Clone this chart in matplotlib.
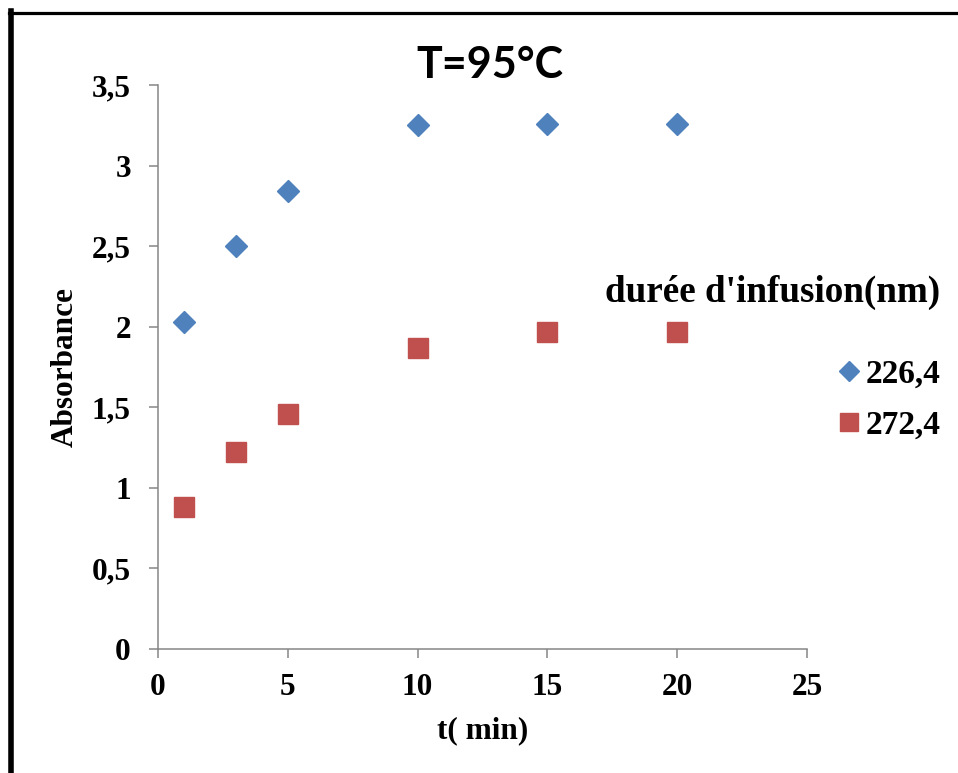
import matplotlib
matplotlib.use("Agg")
import matplotlib.pyplot as plt
from matplotlib.lines import Line2D
from matplotlib.ticker import FuncFormatter, MultipleLocator

# data
t_min = [1, 3, 5, 10, 15, 20]
abs_226 = [2.03, 2.50, 2.84, 3.25, 3.26, 3.26]
abs_272 = [0.88, 1.22, 1.46, 1.87, 1.97, 1.97]
series_labels = ["226,4", "272,4"]
legend_title = "durée d'infusion(nm)"
title = "T=95°C"

plt.rcParams['font.family'] = ['Liberation Serif', 'DejaVu Serif']
plt.rcParams['font.weight'] = 'bold'

fig = plt.figure(figsize=(9.58, 7.73), dpi=100)
ax = fig.add_axes([158/958, 1-649/773, 649/958, 564/773])

ax.plot(t_min, abs_226, linestyle='none', marker='D', ms=11, color='#4F81BD', label=series_labels[0])
ax.plot(t_min, abs_272, linestyle='none', marker='s', ms=14, color='#C0504D', label=series_labels[1])

ax.set_xlim(0, 25)
ax.set_ylim(0, 3.5)
ax.xaxis.set_major_locator(MultipleLocator(5))
ax.yaxis.set_major_locator(MultipleLocator(0.5))
comma = FuncFormatter(lambda v, p: ('%g' % v).replace('.', ','))
ax.xaxis.set_major_formatter(comma)
ax.yaxis.set_major_formatter(comma)

for s in ['top', 'right']:
    ax.spines[s].set_visible(False)
for s in ['left', 'bottom']:
    ax.spines[s].set_color('#868686')
    ax.spines[s].set_linewidth(1.1)
ax.tick_params(axis='both', direction='out', length=6.5, width=1.1, color='#868686', labelsize=22.5)
ax.tick_params(axis='y', pad=13)
ax.tick_params(axis='x', pad=11)
for lb in ax.get_xticklabels() + ax.get_yticklabels():
    lb.set_fontweight('bold')

ax.set_xlabel('t( min)', fontsize=22.5, fontweight='bold')
ax.set_ylabel('Absorbance', fontsize=22.5, fontweight='bold')
ax.xaxis.set_label_coords(0.5, -0.12)
ax.yaxis.set_label_coords(-0.12, 0.5)

fig.text(0.511, 0.916, title, ha='center', va='center', fontsize=31,
         fontweight='bold', family=['Lato', 'DejaVu Sans'])

leg = ax.legend(loc='upper right', bbox_to_anchor=(0.999, 0.666), bbox_transform=fig.transFigure,
                frameon=False, title=legend_title, alignment='right',
                prop={'size': 24, 'weight': 'bold'}, handlelength=0.7, handletextpad=0.15,
                labelspacing=0.6, borderpad=0, markerscale=0.9)
leg.get_title().set_fontsize(26.7)
leg.get_title().set_fontweight('bold')
leg._legend_box.sep = 35

# frame lines (left and top) of the picture
fig.add_artist(Line2D([11.3/958, 11.3/958], [0, 1-11/773], transform=fig.transFigure, color='black', lw=4.0))
fig.add_artist(Line2D([9/958, 1], [1-12.5/773, 1-12.5/773], transform=fig.transFigure, color='black', lw=2.3))

fig.savefig('out.png', dpi=100)
